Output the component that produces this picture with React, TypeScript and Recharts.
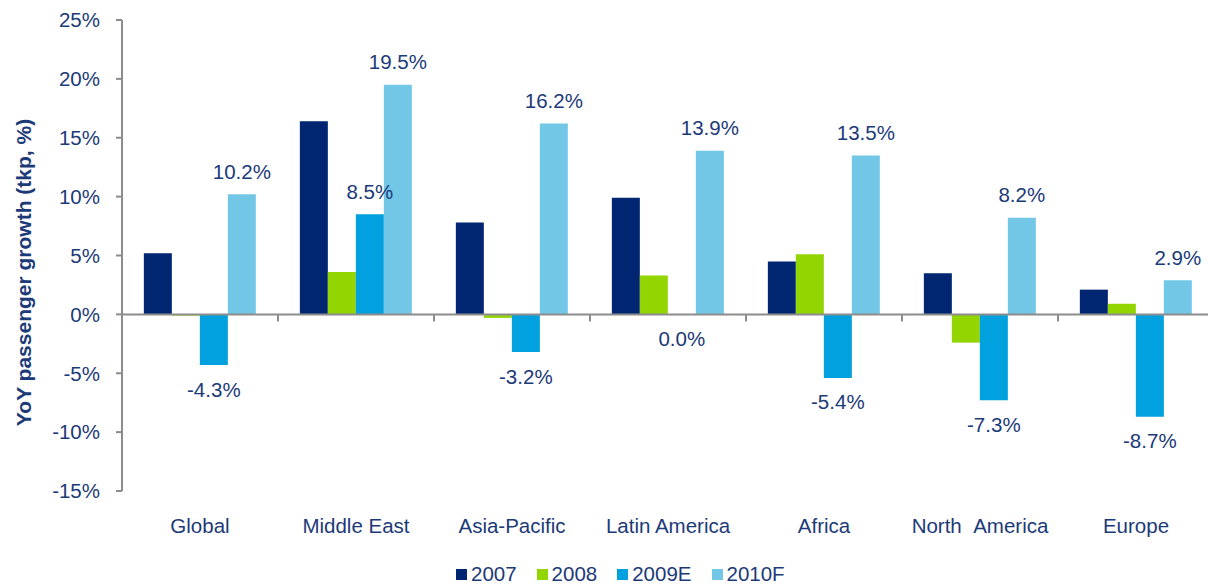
import { BarChart, Bar, XAxis, YAxis, Legend, ReferenceLine, ReferenceArea, LabelList } from 'recharts';

const regions = ['Global', 'Middle East', 'Asia-Pacific', 'Latin America', 'Africa', 'North  America', 'Europe'];
const y2007 = [5.2, 16.4, 7.8, 9.9, 4.5, 3.5, 2.1];
const y2008 = [-0.1, 3.6, -0.3, 3.3, 5.1, -2.4, 0.9];
const y2009E = [-4.3, 8.5, -3.2, 0.0, -5.4, -7.3, -8.7];
const y2010F = [10.2, 19.5, 16.2, 13.9, 13.5, 8.2, 2.9];
const yTicks = [-15, -10, -5, 0, 5, 10, 15, 20, 25];

const series = [
  { key: 'y2007', name: '2007', color: '#002672', labels: false },
  { key: 'y2008', name: '2008', color: '#93d500', labels: false },
  { key: 'y2009E', name: '2009E', color: '#00a1de', labels: true },
  { key: 'y2010F', name: '2010F', color: '#73c7e6', labels: true },
];

const data = regions.map((region, i) => ({
  region,
  y2007: y2007[i],
  y2008: y2008[i],
  y2009E: y2009E[i],
  y2010F: y2010F[i],
}));

const FONT = '"Liberation Sans", Arial, sans-serif';
const TEXT = '#1c3a78';
const AXIS = '#8c8c8c';

// value label: above positive bars, below zero/negative ones
const ValueLabel = (props: any) => {
  const { x, y, width, height, value } = props;
  const top = Math.min(y, y + height);
  const bottom = Math.max(y, y + height);
  const ly = value > 0 ? top - 23 : bottom + 24;
  return (
    <text x={x + width / 2} y={ly} textAnchor="middle" dominantBaseline="central"
      fill={TEXT} fontSize={20.5} fontFamily={FONT}>
      {Number(value).toFixed(1)}%
    </text>
  );
};

const renderLegend = (props: any) => (
  <div style={{ display: 'flex', alignItems: 'center', fontFamily: FONT, fontSize: 20.5, color: TEXT }}>
    {(props.payload || []).map((p: any) => (
      <div key={p.value} style={{ display: 'flex', alignItems: 'center', marginRight: 20 }}>
        <span style={{ width: 11, height: 11, background: p.color, marginRight: 4, display: 'inline-block' }} />
        <span>{p.value}</span>
      </div>
    ))}
  </div>
);

export default function App() {
  return (
    <div style={{ position: 'absolute', left: 0, top: 0, width: 1208, height: 586, overflow: 'hidden', background: '#fff' }}>
      <BarChart
        width={1214}
        height={586}
        data={data}
        margin={{ top: 20, right: 0, bottom: 55, left: 0 }}
        barCategoryGap="14%"
        barGap={0}
      >
        <XAxis
          dataKey="region"
          axisLine={false}
          tickLine={false}
          tickSize={0}
          tickMargin={27}
          height={40}
          interval={0}
          // keep the double space of the source label visible in SVG
          tickFormatter={(v: string) => v.replace(/  /g, ' \u00a0')}
          tick={{ fill: TEXT, fontSize: 20.5, fontFamily: FONT }}
        />
        <YAxis
          width={122}
          domain={[-15, 25]}
          ticks={yTicks}
          tickFormatter={(v) => `${v}%`}
          tick={{ fill: TEXT, fontSize: 20.5, fontFamily: FONT }}
          tickSize={6}
          tickMargin={16}
          axisLine={{ stroke: AXIS, strokeWidth: 2 }}
          tickLine={{ stroke: AXIS, strokeWidth: 2 }}
          label={{
            content: (p: any) => {
              const vb = p.viewBox;
              const cx = vb.x + 23;
              const cy = vb.y + vb.height / 2 + 17;
              return (
                <text x={cx} y={cy} transform={`rotate(-90 ${cx} ${cy})`} textAnchor="middle"
                  dominantBaseline="central" fill={TEXT} fontSize={21} fontWeight="bold" fontFamily={FONT}>
                  YoY passenger growth (tkp, %)
                </text>
              );
            },
          }}
        />
        <Legend
          content={renderLegend}
          layout="horizontal"
          verticalAlign="middle"
          align="center"
          wrapperStyle={{ top: 562, left: 456, width: 'auto', height: 'auto' }}
        />
        {series.map((s) => (
          <Bar key={s.key} dataKey={s.key} name={s.name} fill={s.color} isAnimationActive={false}
            minPointSize={s.labels ? 0.1 : 0}>
            {s.labels && <LabelList dataKey={s.key} content={ValueLabel} />}
          </Bar>
        ))}
        <ReferenceLine y={0} stroke={AXIS} strokeWidth={2} />
        {regions.slice(1).map((r) => (
          <ReferenceArea
            key={r}
            x1={r}
            x2={r}
            y1={0}
            y2={-0.6}
            shape={(p: any) => (
              <line x1={p.x} x2={p.x} y1={p.y} y2={p.y + p.height} stroke={AXIS} strokeWidth={2} />
            )}
          />
        ))}
      </BarChart>
    </div>
  );
}
